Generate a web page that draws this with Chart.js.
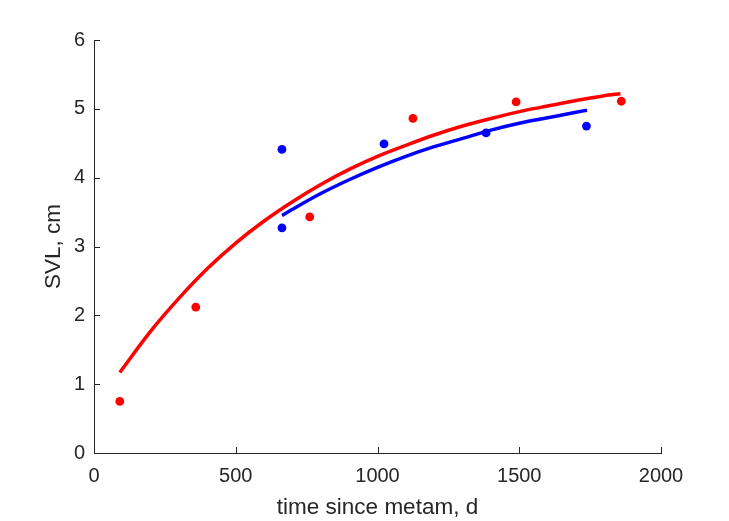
<!DOCTYPE html>
<html>
<head>
<meta charset="utf-8">
<script src="https://cdn.jsdelivr.net/npm/chart.js@4/dist/chart.umd.min.js"></script>
<style>
  html, body { margin: 0; padding: 0; background: #fff; }
  #wrap { width: 729px; height: 521px; }
</style>
</head>
<body>
<div id="wrap"><canvas id="chart"></canvas></div>
<script>
// Observed points (time since metamorphosis, d / SVL, cm)
const redX = [91, 359, 761, 1125, 1489, 1860];
const redY = [0.75, 2.12, 3.43, 4.86, 5.10, 5.11];
const blueX = [663, 663, 1023, 1383, 1737];
const blueY = [4.41, 3.27, 4.49, 4.65, 4.75];

// Fitted curves
const redFitX = [91, 200, 300, 400, 500, 600, 700, 800, 900, 1000, 1100, 1200, 1300, 1400, 1500, 1600, 1700, 1800, 1857];
const redFitY = [1.17, 1.77, 2.25, 2.68, 3.05, 3.37, 3.65, 3.90, 4.12, 4.31, 4.47, 4.62, 4.75, 4.86, 4.96, 5.04, 5.12, 5.19, 5.22];
const blueFitX = [663, 700, 800, 900, 1000, 1100, 1200, 1300, 1400, 1500, 1600, 1700, 1739];
const blueFitY = [3.45, 3.54, 3.77, 3.97, 4.15, 4.31, 4.45, 4.57, 4.69, 4.79, 4.87, 4.95, 4.98];

const xTicks = [0, 500, 1000, 1500, 2000];
const yTicks = [0, 1, 2, 3, 4, 5, 6];

const axisColor = '#262626';
const font = 'Liberation Sans, Arial, sans-serif';
const pts = (xs, ys) => xs.map((x, i) => ({ x, y: ys[i] }));

// MATLAB-style inward tick marks
const inwardTicks = {
  id: 'inwardTicks',
  afterDraw(chart) {
    const { ctx, scales: { x, y } } = chart;
    ctx.save();
    ctx.strokeStyle = axisColor;
    ctx.lineWidth = 1;
    ctx.beginPath();
    xTicks.forEach(v => {
      const px = Math.round(x.getPixelForValue(v)) + 0.5;
      ctx.moveTo(px, y.bottom);
      ctx.lineTo(px, y.bottom - 6);
    });
    yTicks.forEach(v => {
      const py = Math.round(y.getPixelForValue(v)) + 0.5;
      ctx.moveTo(x.left, py);
      ctx.lineTo(x.left + 6, py);
    });
    ctx.stroke();
    ctx.restore();
  }
};

new Chart(document.getElementById('chart'), {
  type: 'scatter',
  data: {
    datasets: [
      {
        data: pts(blueFitX, blueFitY),
        showLine: true,
        borderColor: '#0000ff',
        borderWidth: 3.5,
        pointRadius: 0,
        cubicInterpolationMode: 'monotone'
      },
      {
        data: pts(redFitX, redFitY),
        showLine: true,
        borderColor: '#ff0000',
        borderWidth: 3.5,
        pointRadius: 0,
        cubicInterpolationMode: 'monotone'
      },
      {
        data: pts(redX, redY),
        backgroundColor: '#ff0000',
        borderWidth: 0,
        pointRadius: 4.4
      },
      {
        data: pts(blueX, blueY),
        backgroundColor: '#0000ff',
        borderWidth: 0,
        pointRadius: 4.4
      }
    ]
  },
  plugins: [inwardTicks],
  options: {
    responsive: true,
    maintainAspectRatio: false,
    animation: false,
    layout: { padding: { top: 40, right: 68, bottom: 0, left: 0 } },
    plugins: { legend: { display: false }, tooltip: { enabled: false } },
    scales: {
      x: {
        type: 'linear',
        min: 0,
        max: 2000,
        afterBuildTicks: s => { s.ticks = xTicks.map(value => ({ value })); },
        afterFit: s => { s.height = 68; },
        grid: { display: false, drawTicks: false },
        border: { display: true, color: axisColor, width: 1 },
        ticks: { color: axisColor, padding: 11, callback: v => String(v), font: { family: font, size: 20 } },
        title: {
          display: true,
          text: 'time since metam, d',
          color: axisColor,
          padding: { top: 0, bottom: 0 },
          font: { family: font, size: 22.5 }
        }
      },
      y: {
        type: 'linear',
        min: 0,
        max: 6,
        afterBuildTicks: s => { s.ticks = yTicks.map(value => ({ value })); },
        afterFit: s => { s.width = 94; },
        grid: { display: false, drawTicks: false },
        border: { display: true, color: axisColor, width: 1 },
        ticks: { color: axisColor, padding: 9, callback: v => String(v), font: { family: font, size: 20 } },
        title: {
          display: true,
          text: 'SVL, cm',
          color: axisColor,
          padding: { top: 40, bottom: 0 },
          font: { family: font, size: 22.5 }
        }
      }
    }
  }
});
</script>
</body>
</html>
